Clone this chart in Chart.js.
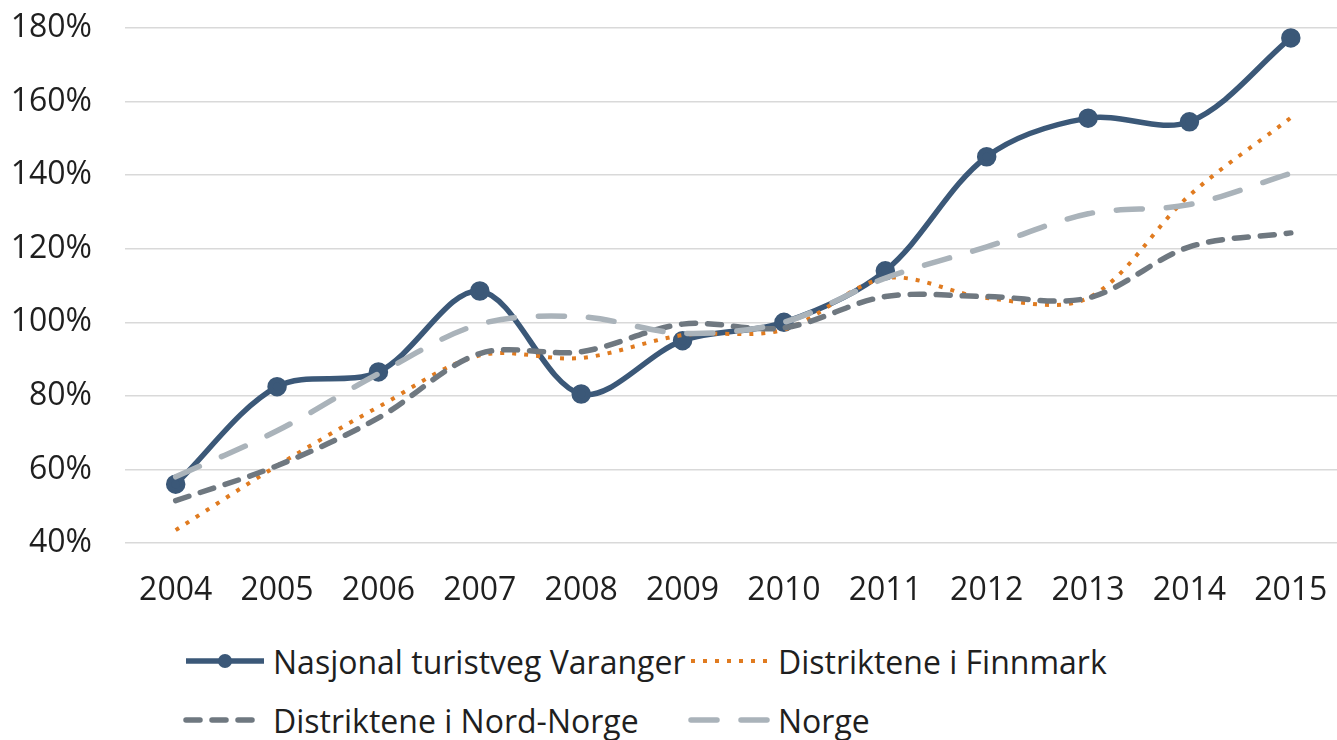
<!DOCTYPE html>
<html>
<head>
<meta charset="utf-8">
<script src="https://cdn.jsdelivr.net/npm/chart.js@4"></script>
<style>
  html, body { margin: 0; padding: 0; background: #fff; overflow: hidden; }
  #wrap { position: relative; width: 1337px; height: 740px; overflow: hidden; }
  #chart { position: absolute; left: 0; top: 0; }
  .legend-item { position: absolute; display: flex; align-items: center; font-family: "Open Sans", sans-serif; font-size: 32px; color: #1f1f1f; white-space: nowrap; }
  .legend-item svg { margin-right: 6px; }
</style>
</head>
<body>
<div id="wrap">
  <canvas id="chart" width="1354" height="620"></canvas>
  <div id="legend"></div>
</div>
<script>
const years = ['2004', '2005', '2006', '2007', '2008', '2009', '2010', '2011', '2012', '2013', '2014', '2015'];

// index values in percent
const varanger   = [56, 82.5, 86.5, 108.5, 80.5, 95, 100, 114, 145, 155.5, 154.5, 177.3];
const finnmark   = [43.5, 61, 77, 91, 90.3, 96.5, 98, 112, 106.6, 106.6, 134.5, 155.6];
const nordNorge  = [51.5, 61, 74, 91.5, 92, 99.5, 98.5, 107, 107, 106.6, 120.5, 124.3];
const norge      = [58, 70.5, 86, 99.5, 101.5, 97, 100, 112, 120.5, 129.5, 132, 140.5];

const seriesNames = ['Nasjonal turistveg Varanger', 'Distriktene i Finnmark', 'Distriktene i Nord-Norge', 'Norge'];

const yTicks = { min: 40, max: 180, step: 20 };

const fontFamily = '"Open Sans", sans-serif';
const textColor = '#1f1f1f';

const ctx = document.getElementById('chart');
const chart = new Chart(ctx, {
  type: 'line',
  data: {
    labels: years,
    datasets: [
      {
        label: seriesNames[0],
        data: varanger,
        borderColor: '#3b5878',
        backgroundColor: '#3b5878',
        borderWidth: 5.5,
        pointRadius: 7,
        pointHoverRadius: 7,
        tension: 0.33,
        order: 4
      },
      {
        label: seriesNames[1],
        data: finnmark,
        borderColor: '#e07b20',
        borderWidth: 4,
        borderDash: [4, 8],
        borderCapStyle: 'butt',
        pointRadius: 0,
        tension: 0.33,
        order: 3
      },
      {
        label: seriesNames[2],
        data: nordNorge,
        borderColor: '#6f7880',
        borderWidth: 5.5,
        borderDash: [14, 12],
        borderCapStyle: 'round',
        pointRadius: 0,
        tension: 0.33,
        order: 2
      },
      {
        label: seriesNames[3],
        data: norge,
        borderColor: '#aab3ba',
        borderWidth: 5.5,
        borderDash: [26, 24],
        borderCapStyle: 'round',
        pointRadius: 0,
        tension: 0.33,
        order: 1
      }
    ]
  },
  options: {
    responsive: false,
    animation: false,
    layout: { padding: { top: 28, right: 0, bottom: 0, left: 0 } },
    plugins: {
      legend: { display: false },
      tooltip: { enabled: false }
    },
    scales: {
      x: {
        offset: true,
        grid: { display: false, drawTicks: false },
        border: { display: false },
        ticks: {
          padding: 29,
          color: textColor,
          font: { family: fontFamily, size: 32 }
        },
        afterFit: (s) => {
          s.height = 77;
          s.paddingLeft = 0;
          s.paddingRight = 0;
        }
      },
      y: {
        min: yTicks.min,
        max: yTicks.max,
        grid: { color: '#d9d9d9', lineWidth: 1.5, drawTicks: false },
        border: { display: false },
        ticks: {
          stepSize: yTicks.step,
          padding: 33,
          color: textColor,
          font: { family: fontFamily, size: 32 },
          callback: (v) => v + '%'
        },
        afterFit: (s) => {
          s.width = 125;
          s.paddingTop = 0;
          s.paddingBottom = 0;
        }
      }
    }
  }
});

// legend drawn as html, laid out in two columns like the original
const legendPos = [
  { left: 183, top: 661 },
  { left: 688, top: 661 },
  { left: 183, top: 720 },
  { left: 688, top: 720 }
];

const legend = document.getElementById('legend');
chart.data.datasets.forEach((ds, i) => {
  const item = document.createElement('div');
  item.className = 'legend-item';
  item.style.left = legendPos[i].left + 'px';
  item.style.top = (legendPos[i].top - 20) + 'px';
  item.style.height = '40px';
  const dash = ds.borderDash ? ds.borderDash.join(' ') : 'none';
  const cap = ds.borderCapStyle || 'butt';
  let svg = '<svg width="84" height="20" viewBox="0 0 84 20">' +
    '<line x1="3" y1="10" x2="81" y2="10" stroke="' + ds.borderColor + '" stroke-width="' + ds.borderWidth +
    '" stroke-dasharray="' + dash + '" stroke-linecap="' + cap + '"/>';
  if (ds.pointRadius > 0) {
    svg += '<circle cx="42" cy="10" r="' + ds.pointRadius + '" fill="' + ds.borderColor + '"/>';
  }
  svg += '</svg>';
  item.innerHTML = svg + '<span>' + ds.label + '</span>';
  legend.appendChild(item);
});
</script>
</body>
</html>
